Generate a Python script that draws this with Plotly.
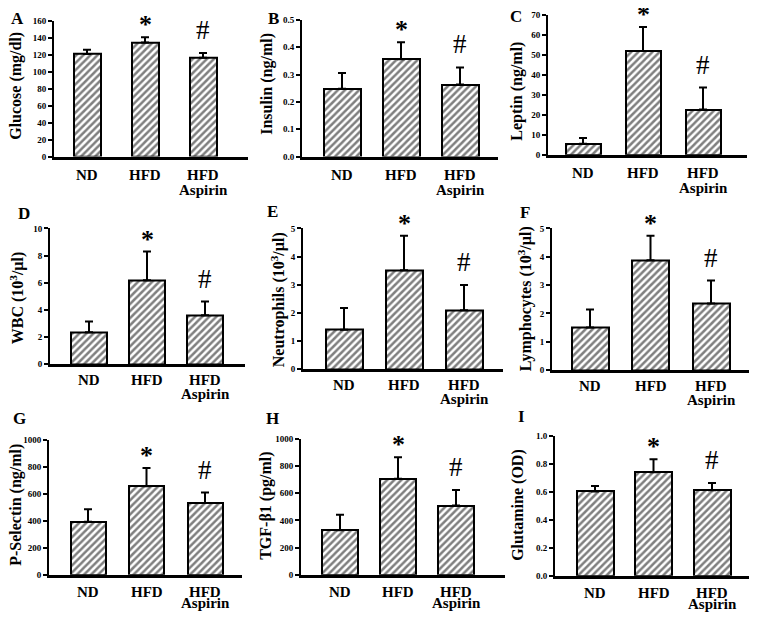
import plotly.graph_objects as go

# page body has an 8px default margin; the figure is sized so that it fills the window
OFF = 8
W, H = 757 - OFF, 620 - OFF

# ---------------- data ----------------
categories = ["ND", "HFD", "HFD"]
second_line = ["", "", "Aspirin"]

glucose = [121, 134.6, 116.5]
glucose_err = [5, 6.2, 5.5]
insulin = [0.248, 0.356, 0.264]
insulin_err = [0.058, 0.062, 0.062]
leptin = [5.4, 52, 22.6]
leptin_err = [3, 12, 11]
wbc = [2.35, 6.18, 3.6]
wbc_err = [0.8, 2.12, 1.01]
neutrophils = [1.4, 3.51, 2.09]
neutrophils_err = [0.77, 1.23, 0.9]
lymphocytes = [1.5, 3.88, 2.35]
lymphocytes_err = [0.64, 0.86, 0.81]
pselectin = [393, 656, 531]
pselectin_err = [93, 135, 78]
tgfb1 = [328, 707, 510]
tgfb1_err = [114, 158, 113]
glutamine = [0.603, 0.741, 0.612]
glutamine_err = [0.038, 0.092, 0.052]

panel_letters = ["A", "B", "C", "D", "E", "F", "G", "H", "I"]
y_titles = ["Glucose (mg/dl)", "Insulin (ng/ml)", "Leptin (ng/ml)",
            "WBC (10<sup>3</sup>/µl)", "Neutrophils (10<sup>3</sup>/µl)",
            "Lymphocytes (10<sup>3</sup>/µl)", "P-Selectin (ng/ml)",
            "TGF-β1 (pg/ml)", "Glutamine (OD)"]
y_max = [160, 0.5, 70, 10, 5, 5, 1000, 1000, 1.0]
y_dtick = [20, 0.1, 10, 2, 1, 1, 200, 200, 0.2]
y_fmt = ["d", ".1f", "d", "d", "d", "d", "d", "d", ".1f"]
sig_marks = ["", "*", "#"]

values = [glucose, insulin, leptin, wbc, neutrophils, lymphocytes, pselectin, tgfb1, glutamine]
errors = [glucose_err, insulin_err, leptin_err, wbc_err, neutrophils_err,
          lymphocytes_err, pselectin_err, tgfb1_err, glutamine_err]

# ---------------- layout geometry (window pixels) ----------------
# axis x, axis end x, top y, zero y, first center, spacing, bar width px
geom = [
    (54, 248, 16, 154, 87, 58, 27),
    (302, 498, 15, 154, 342, 59, 37),
    (548, 747, 10, 152, 583, 60, 35),
    (50, 245, 227, 365, 89, 58, 36),
    (303, 503, 227, 370, 344, 60, 37),
    (552, 750, 227, 371, 590, 60.5, 37),
    (49, 242, 442, 579, 88, 58.5, 35),
    (301, 505, 441, 579, 340, 58, 36),
    (555, 750, 438, 580, 595, 58.5, 37),
]
title_pos = [(16, 82), (267, 80), (517, 88), (17, 298), (278, 300), (525, 299),
             (16, 508), (266, 509), (518, 508)]
letter_pos = [(17, 14), (273, 14), (516, 12), (24, 212), (272, 210), (525, 211),
              (19, 420), (272, 420), (521, 418)]
# distance (px) below the zero line of the first and second label lines, per row
label_dy = [(18, 33), (16, 30), (17, 28)]

SERIF = "Liberation Serif, Times New Roman, serif"

def px(x):
    return (x - OFF) / W

def py(y):
    return 1 - (y - OFF) / H

fig = go.Figure()
annotations = []

for i in range(9):
    ax0, ax1, ytop, yzero, c0, sp, bw = geom[i]
    n = i + 1
    xa = "x" if n == 1 else f"x{n}"
    ya = "y" if n == 1 else f"y{n}"
    xname = "xaxis" if n == 1 else f"xaxis{n}"
    yname = "yaxis" if n == 1 else f"yaxis{n}"
    vals = values[i]
    errs = errors[i]
    fig.add_trace(go.Bar(
        x=[0, 1, 2], y=vals, width=bw / sp,
        xaxis=xa, yaxis=ya, showlegend=False,
        marker=dict(color="white", line=dict(color="black", width=2),
                    pattern=dict(shape="/", fgcolor="black", bgcolor="white",
                                 size=5, solidity=0.5)),
        error_y=dict(type="data", symmetric=False, array=errs,
                     arrayminus=[0, 0, 0], color="black", thickness=2, width=4),
    ))
    lo = -(c0 - ax0) / sp
    hi = 2 + (ax1 - (c0 + 2 * sp)) / sp
    fig.update_layout(**{
        xname: dict(domain=[px(ax0), px(ax1)], anchor=ya, range=[lo, hi],
                    showticklabels=False,
                    showline=True, linecolor="black", linewidth=2.5,
                    ticks="", showgrid=False, zeroline=False),
        yname: dict(domain=[py(yzero), py(ytop)], anchor=xa, range=[0, y_max[i]],
                    dtick=y_dtick[i], tick0=0, tickformat=y_fmt[i],
                    showline=True, linecolor="black", linewidth=2,
                    ticks="outside", ticklen=4, tickwidth=1.5, tickcolor="black",
                    showgrid=False, zeroline=False,
                    tickfont=dict(family=SERIF, size=9, color="black", weight="bold")),
    })
    row = i // 3
    d1, d2 = label_dy[row]
    for k in range(3):
        # category labels
        annotations.append(dict(
            x=k, y=0, xref=xa, yref=ya, text=categories[k], showarrow=False,
            yanchor="middle", yshift=-d1,
            font=dict(family=SERIF, size=15, color="black", weight="bold"),
        ))
        if second_line[k]:
            annotations.append(dict(
                x=k, y=0, xref=xa, yref=ya, text=second_line[k], showarrow=False,
                yanchor="middle", yshift=-d2,
                font=dict(family=SERIF, size=15, color="black", weight="bold"),
            ))
        # significance marks
        if sig_marks[k]:
            star = sig_marks[k] == "*"
            annotations.append(dict(
                x=k, y=vals[k] + errs[k], xref=xa, yref=ya,
                text=sig_marks[k], showarrow=False, yanchor="bottom",
                yshift=(-4 if star else 6),
                font=dict(family=SERIF, size=(26 if star else 27),
                          color="black", weight=("bold" if star else "normal")),
            ))
    # y title
    tx, ty = title_pos[i]
    annotations.append(dict(
        x=px(tx), y=py(ty), xref="paper", yref="paper", text=y_titles[i],
        textangle=-90, showarrow=False, xanchor="center", yanchor="middle",
        font=dict(family=SERIF, size=16, color="black", weight="bold"),
    ))
    lx, ly = letter_pos[i]
    annotations.append(dict(
        x=px(lx), y=py(ly), xref="paper", yref="paper", text=panel_letters[i],
        showarrow=False, xanchor="center", yanchor="middle",
        font=dict(family=SERIF, size=17, color="black", weight="bold"),
    ))

fig.update_layout(
    width=W, height=H, margin=dict(l=0, r=0, t=0, b=0),
    paper_bgcolor="white", plot_bgcolor="white",
    annotations=annotations, bargap=0,
)

fig.write_html("out.html")
